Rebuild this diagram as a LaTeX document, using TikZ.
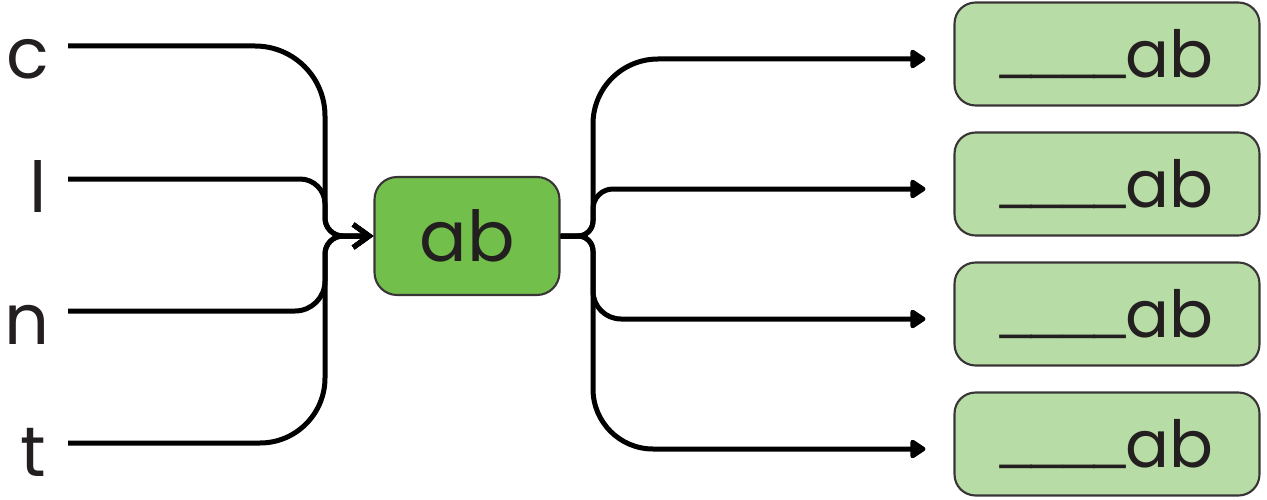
\documentclass[tikz,border=0pt]{standalone}
\usepackage{fontspec}
\setmainfont{Poppins}
\newfontfamily\blankfont{Liberation Sans}
\usepackage{xcolor}
\usetikzlibrary{arrows.meta, positioning}
\definecolor{inkgray}{HTML}{231F20}
\definecolor{rootgreen}{HTML}{72BF4B}
\definecolor{wordgreen}{HTML}{B8DCA5}
\newcommand{\blankline}{\raisebox{5.6pt}{\blankfont\fontsize{32}{36}\selectfont\_\_\_\_}}
\begin{document}
\begin{tikzpicture}[
        x=0.02cm, y=-0.02cm,
        letter/.style={inner sep=0pt, text=inkgray, font=\fontsize{40}{48}\selectfont},
        rootbox/.style={rectangle, rounded corners=0.45cm, draw=inkgray!90, line width=1.2pt, fill=rootgreen, minimum width=3.7cm, minimum height=2.36cm, text=inkgray, font=\fontsize{40}{48}\selectfont},
        wordbox/.style={rectangle, rounded corners=0.42cm, draw=inkgray!90, line width=1.2pt, fill=wordgreen, minimum width=6.1cm, minimum height=2.06cm, text=inkgray, font=\fontsize{37}{44}\selectfont},
        inarrow/.style={-{Straight Barb[length=0.32cm, width=0.46cm]}, line width=0.1cm},
        outarrow/.style={-{Triangle[length=0.34cm, width=0.42cm, round]}, line width=0.1cm, shorten >=0.56cm}
    ]
        \useasboundingbox (0,0) rectangle (1267,500);

        \node[rootbox] (ab) at (467,236) {ab};

        \foreach \name/\y/\tx/\r in {c/46/28/1.4cm, l/179/38/0.5cm, n/311/27/0.6cm, t/443/33/1.3cm} {
            \node[letter, anchor=base] (\name) at (\tx,\y+33) {\name};
            \coordinate (\name-in) at (68,\y);
            \draw[inarrow] (\name-in) [rounded corners=\r] -- (325,\y) [rounded corners=0.36cm] -- (325,236) -- (ab.west);
        }

        \foreach \i/\y/\r in {1/54/1.3cm, 2/184/0.4cm, 3/314/0.56cm, 4/444/1.2cm} {
            \node[wordbox] (word\i) at (1107,\y) {\blankline ab};
            \draw[outarrow] (ab.east) [rounded corners=0.3cm] -- (593,236) [rounded corners=\r] -- (593,\y+5) -- ([yshift=-0.1cm]word\i.west);
        }
    \end{tikzpicture}
\end{document}
